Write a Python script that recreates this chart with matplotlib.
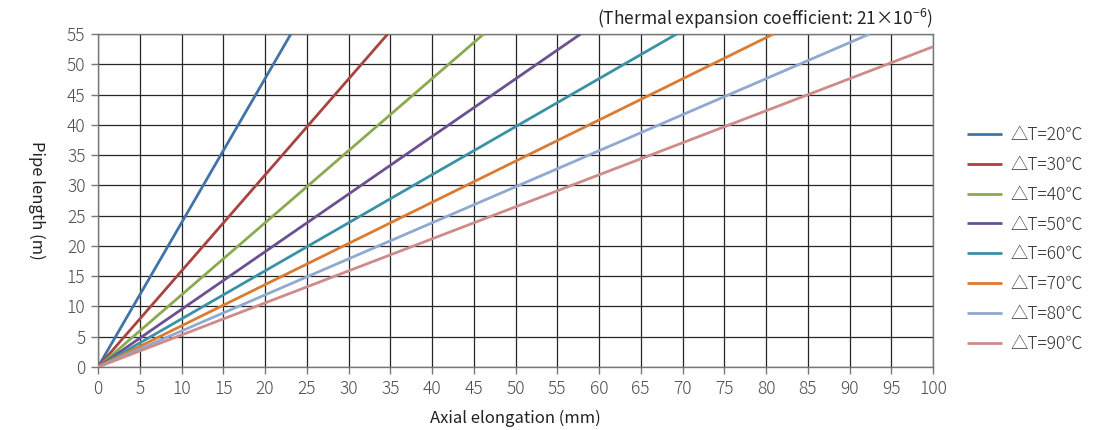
import matplotlib.pyplot as plt

plt.rcParams['font.family'] = ['Noto Sans CJK JP', 'DejaVu Sans']
plt.rcParams['mathtext.fontset'] = 'custom'
plt.rcParams['mathtext.rm'] = 'Noto Sans CJK JP'

# temperature differences and line end points (start at origin)
delta_t = [20, 30, 40, 50, 60, 70, 80, 90]
end_elongation = [23.1, 34.7, 46.2, 57.8, 69.3, 80.9, 92.4, 100.0]   # mm
end_length = [55.0, 55.0, 55.0, 55.0, 55.0, 55.0, 55.0, 52.9]         # m
colors = ['#4372A8', '#A8433F', '#8BAA4F', '#6B5190', '#3A92A6',
          '#DB7B31', '#8FA9D0', '#CE8B89']

x_ticks = list(range(0, 101, 5))
y_ticks = list(range(0, 56, 5))

fs = 12.5
fig = plt.figure(figsize=(11.16, 4.30), dpi=100)
ax = fig.add_axes([98 / 1116, 1 - 367 / 430, 835 / 1116, 333 / 430])

for dt, xe, ye, c in zip(delta_t, end_elongation, end_length, colors):
    ax.plot([0, xe], [0, ye], color=c, lw=2.0, label='△T=%d℃' % dt,
            solid_capstyle='butt', zorder=3)

ax.set_xlim(0, 100)
ax.set_ylim(0, 55)
ax.set_xticks(x_ticks)
ax.set_yticks(y_ticks)
ax.grid(True, color='#262626', lw=0.9, zorder=1)
for s in ax.spines.values():
    s.set_color('#777777')
    s.set_linewidth(1.0)
ax.tick_params(axis='both', direction='out', length=5, width=1.0,
               color='#777777', labelcolor='#4d4d4d', labelsize=fs, pad=4)
for lab in ax.get_xticklabels() + ax.get_yticklabels():
    lab.set_fontweight('light')

ax.set_xlabel('Axial elongation (mm)', fontsize=fs - 0.5, color='#222222',
              labelpad=9)
ax.set_ylabel('Pipe length (m)', fontsize=fs - 0.5, color='#222222',
              rotation=270, va='bottom')
ax.yaxis.set_label_coords(-0.084, 0.5)

ax.text(1.0, 1.008, '(Thermal expansion coefficient: 21×10$^{-6}$)',
        transform=ax.transAxes, ha='right', va='bottom', fontsize=fs,
        color='#222222')

leg = ax.legend(loc='center left', bbox_to_anchor=(1.033, 0.383), frameon=False,
                fontsize=fs, handlelength=2.0, handletextpad=0.5,
                labelspacing=0.68, borderaxespad=0)
for t in leg.get_texts():
    t.set_color('#333333')
    t.set_fontweight('light')

fig.savefig('out.png', dpi=100)
